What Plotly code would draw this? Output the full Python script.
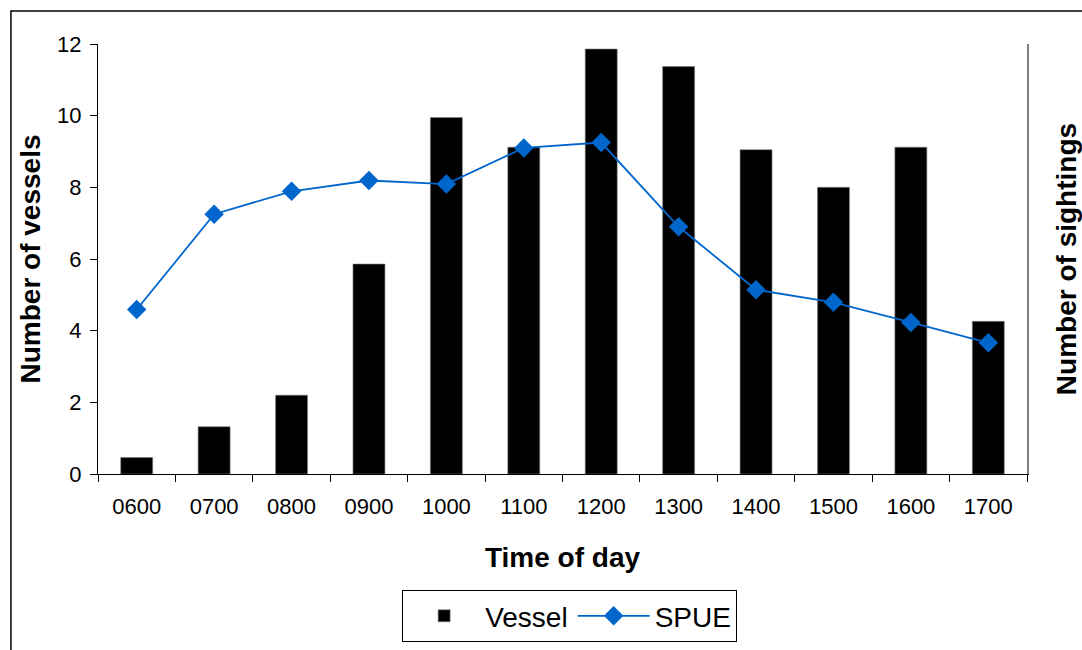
import plotly.graph_objects as go

times = ["0600", "0700", "0800", "0900", "1000", "1100", "1200", "1300", "1400", "1500", "1600", "1700"]
vessels = [0.46, 1.32, 2.20, 5.86, 9.95, 9.12, 11.86, 11.37, 9.05, 8.00, 9.12, 4.26]
spue = [4.59, 7.25, 7.89, 8.19, 8.09, 9.10, 9.25, 6.90, 5.14, 4.79, 4.23, 3.66]
y_ticks = [0, 2, 4, 6, 8, 10, 12]

FONT = "Liberation Sans, Arial, sans-serif"
boundaries = [i - 0.5 for i in range(len(times) + 1)]

fig = go.Figure()
fig.add_trace(go.Bar(
    x=times, y=vessels, name="Vessel",
    marker=dict(color="#000000", line=dict(color="#808080", width=0.6)),
))
fig.add_trace(go.Scatter(
    x=times, y=spue, name="SPUE", yaxis="y2", mode="lines+markers",
    line=dict(color="#0066CC", width=1.8),
    marker=dict(symbol="diamond", size=15, color="#0066CC"),
))

fig.update_layout(
    width=1082, height=650,
    margin=dict(l=98, r=55, t=44, b=176, autoexpand=False),
    paper_bgcolor="white", plot_bgcolor="white",
    font=dict(family=FONT, size=22, color="#000000"),
    bargap=0.587,
    showlegend=True,
    legend=dict(
        orientation="h", x=0.5077, xanchor="center", y=-0.27, yanchor="top",
        bordercolor="#000000", borderwidth=1, font=dict(size=28),
        itemwidth=72, tracegroupgap=0,
    ),
    xaxis=dict(
        type="category", categoryarray=times, range=[-0.5, 11.5],
        tickson="boundaries", ticks="outside", ticklen=7, tickcolor="#000",
        showline=True, linecolor="#000", linewidth=1.2, showgrid=False,
        ticklabelstandoff=12, tickfont=dict(size=22), automargin=False,
        title=dict(text="<b>Time of day</b>", font=dict(size=28), standoff=29),
        zeroline=False,
    ),
    xaxis2=dict(
        overlaying="x", anchor="y", side="bottom", range=[-0.5, 11.5],
        tickmode="array", tickvals=boundaries, ticks="inside", ticklen=8,
        tickcolor="#000", showticklabels=False, showline=False, showgrid=False,
        zeroline=False, automargin=False,
    ),
    xaxis3=dict(
        overlaying="x", anchor="y", side="top", range=[-0.5, 11.5],
        showline=True, linecolor="#808080", linewidth=1.5, ticks="",
        showticklabels=False, showgrid=False, zeroline=False, automargin=False,
    ),
    yaxis=dict(
        range=[0, 12], tickmode="array", tickvals=y_ticks,
        ticks="outside", ticklen=7, tickcolor="#000",
        showline=True, linecolor="#000", linewidth=1.2, showgrid=False,
        zeroline=False, tickfont=dict(size=22), ticklabelstandoff=4,
        automargin=False,
        title=dict(text="<b>Number of vessels</b>", font=dict(size=28), standoff=8),
    ),
    yaxis3=dict(
        overlaying="y", anchor="x", side="left", range=[0, 12],
        tickmode="array", tickvals=y_ticks, ticks="inside", ticklen=8,
        tickcolor="#000", showticklabels=False, showline=False, showgrid=False,
        zeroline=False, automargin=False,
    ),
    yaxis2=dict(
        overlaying="y", anchor="x", side="right", range=[0, 12],
        showline=True, linecolor="#808080", linewidth=1.5, ticks="",
        showticklabels=False, showgrid=False, zeroline=False, automargin=False,
        title=dict(text="<b>Number of sightings</b>", font=dict(size=28), standoff=30),
    ),
    shapes=[dict(
        type="rect", xref="paper", yref="paper",
        x0=-0.0937, x1=1.2, y0=-0.6, y1=1.0767,
        line=dict(color="#000000", width=1.5), fillcolor="rgba(0,0,0,0)",
        layer="below",
    )],
)

fig.write_html("out.html")
